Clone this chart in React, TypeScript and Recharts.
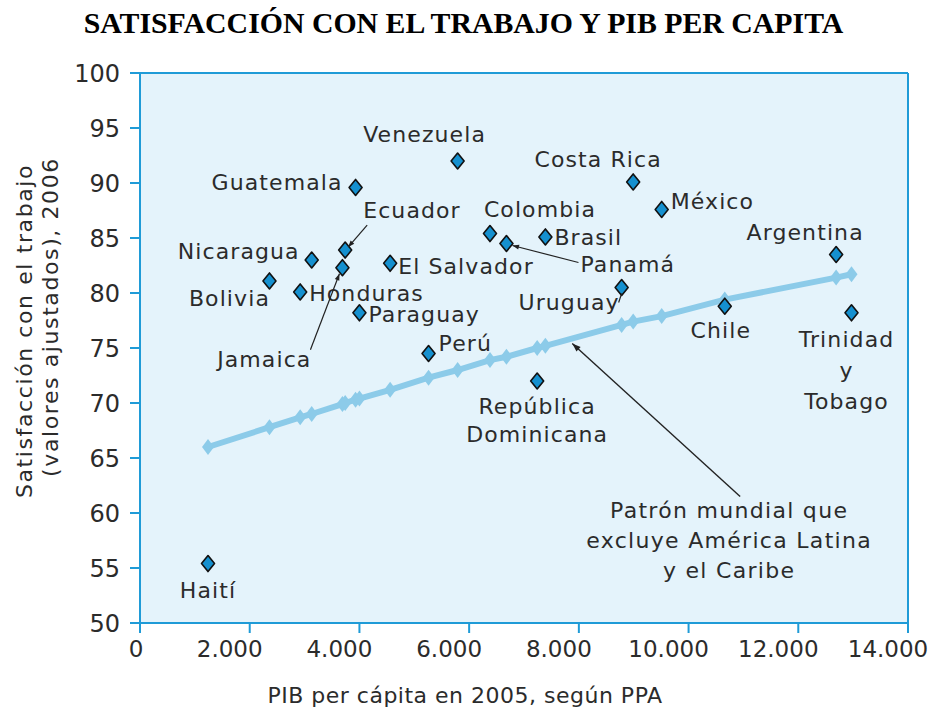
import React from "react";
import {
  ScatterChart,
  Scatter,
  XAxis,
  YAxis,
  CartesianGrid,
  ReferenceLine,
} from "recharts";

// Países de América Latina y el Caribe
const countries = [
  "Haití", "Bolivia", "Honduras", "Nicaragua", "Jamaica", "Ecuador",
  "Guatemala", "Paraguay", "El Salvador", "Perú", "Venezuela", "Colombia",
  "Panamá", "República Dominicana", "Brasil", "Uruguay", "Costa Rica",
  "México", "Chile", "Argentina", "Trinidad y Tobago",
];
const gdp = [
  1240, 2360, 2920, 3130, 3690, 3740, 3930, 4000, 4560, 5260, 5790, 6380,
  6680, 7240, 7390, 8780, 8990, 9510, 10660, 12690, 12970,
];
const satisfaction = [
  55.4, 81.1, 80.1, 83.0, 82.3, 83.9, 89.6, 78.2, 82.7, 74.5, 92.0, 85.4,
  84.5, 72.0, 85.1, 80.5, 90.1, 87.6, 78.8, 83.5, 78.2,
];

// Patrón mundial (sin América Latina y el Caribe)
const trendGdp = [
  1240, 2360, 2920, 3130, 3690, 3740, 3930, 4000, 4560, 5260, 5790, 6380,
  6680, 7240, 7390, 8780, 8990, 9510, 10660, 12690, 12970,
];
const trendSat = [
  66.0, 67.8, 68.7, 69.0, 69.9, 70.0, 70.3, 70.4, 71.2, 72.3, 73.0, 73.9,
  74.2, 75.0, 75.2, 77.1, 77.4, 77.9, 79.4, 81.4, 81.7,
];

const yTicks = [50, 55, 60, 65, 70, 75, 80, 85, 90, 95, 100];
const xTicks = [0, 2000, 4000, 6000, 8000, 10000, 12000, 14000];

const patternLines = ["Patrón mundial que", "excluye América Latina", "y el Caribe"];

// dónde va cada etiqueta respecto al rombo (px)
type Place = {
  dx: number;
  dy: number;
  anchor: "start" | "middle" | "end";
  lines?: string[];
  step?: number;
  arrow?: [number, number, number, number];
  head?: boolean;
};
const labelPlace: Record<string, Place> = {
  "Haití": { dx: 0, dy: 34, anchor: "middle" },
  "Bolivia": { dx: -40, dy: 25, anchor: "middle" },
  "Honduras": { dx: 9, dy: 9, anchor: "start" },
  "Nicaragua": { dx: -12, dy: -1, anchor: "end" },
  "Jamaica": { dx: -31, dy: 99, anchor: "end", arrow: [-32, 82, -3, 6], head: true },
  "Ecuador": { dx: 18, dy: -32, anchor: "start", arrow: [22, -25, 3, -3], head: true },
  "Guatemala": { dx: -13, dy: 3, anchor: "end" },
  "Paraguay": { dx: 9, dy: 9, anchor: "start" },
  "El Salvador": { dx: 8, dy: 11, anchor: "start" },
  "Perú": { dx: 10, dy: -3, anchor: "start" },
  "Venezuela": { dx: -33, dy: -19, anchor: "middle" },
  "Colombia": { dx: 50, dy: -17, anchor: "middle" },
  "Panamá": { dx: 74, dy: 28, anchor: "start", arrow: [72, 19, 6, 2], head: true },
  "República Dominicana": {
    dx: 0, dy: 33, anchor: "middle", lines: ["República", "Dominicana"], step: 28,
  },
  "Brasil": { dx: 9, dy: 8, anchor: "start" },
  "Uruguay": { dx: -2, dy: 22, anchor: "end", arrow: [-3, 15, 0, 6] },
  "Costa Rica": { dx: -35, dy: -15, anchor: "middle" },
  "México": { dx: 9, dy: 0, anchor: "start" },
  "Chile": { dx: -4, dy: 32, anchor: "middle" },
  "Argentina": { dx: -31, dy: -15, anchor: "middle" },
  "Trinidad y Tobago": {
    dx: -5, dy: 34, anchor: "middle", lines: ["Trinidad", "y", "Tobago"], step: 31,
  },
};

const AXIS = "#1f9bd7";
const BG = "#e4f3fb";
const MARK = "#1590cf";
const TREND = "#8ccbe9";
const INK = "#2b2b2b";
const SANS = "'DejaVu Sans', sans-serif";

const countryData = countries.map((name, i) => ({ name, x: gdp[i], y: satisfaction[i] }));
const trendData = trendGdp.map((x, i) => ({ x, y: trendSat[i] }));

function fmtThousands(v: number): string {
  return v === 0 ? "0" : v.toLocaleString("de-DE");
}

function arrowHead(x1: number, y1: number, x2: number, y2: number, size = 7) {
  const a = Math.atan2(y2 - y1, x2 - x1);
  const p1 = [x2 - size * Math.cos(a - 0.35), y2 - size * Math.sin(a - 0.35)];
  const p2 = [x2 - size * Math.cos(a + 0.35), y2 - size * Math.sin(a + 0.35)];
  return `${x2},${y2} ${p1[0]},${p1[1]} ${p2[0]},${p2[1]}`;
}

function CountryMark(props: any) {
  const { cx, cy, payload } = props;
  if (cx == null || cy == null) return null;
  const p = labelPlace[payload.name];
  const lines = p.lines ?? [payload.name];
  return (
    <g>
      <polygon
        points={`${cx},${cy - 8} ${cx + 6.5},${cy} ${cx},${cy + 8} ${cx - 6.5},${cy}`}
        fill={MARK}
        stroke="#111"
        strokeWidth={1.6}
        strokeLinejoin="round"
      />
      {p.arrow && (
        <g stroke="#222" strokeWidth={1.2} fill="#222">
          <line x1={cx + p.arrow[0]} y1={cy + p.arrow[1]} x2={cx + p.arrow[2]} y2={cy + p.arrow[3]} />
          {p.head && (
            <polygon
              points={arrowHead(cx + p.arrow[0], cy + p.arrow[1], cx + p.arrow[2], cy + p.arrow[3])}
              stroke="none"
            />
          )}
        </g>
      )}
      {lines.map((t, k) => (
        <text
          key={k}
          x={cx + p.dx}
          y={cy + p.dy + k * (p.step ?? 0)}
          textAnchor={p.anchor}
          fontFamily={SANS}
          fontSize={22}
          letterSpacing={1.1}
          fill={INK}
        >
          {t}
        </text>
      ))}
    </g>
  );
}

function TrendMark(props: any) {
  const { cx, cy } = props;
  if (cx == null || cy == null) return null;
  return (
    <polygon
      points={`${cx},${cy - 8} ${cx + 6},${cy} ${cx},${cy + 8} ${cx - 6},${cy}`}
      fill={TREND}
    />
  );
}

function PatternArrow(props: any) {
  const { x1, y1, x2, y2 } = props;
  return (
    <g>
      <line x1={x1} y1={y1} x2={x2} y2={y2} stroke="#222" strokeWidth={1.4} />
      <polygon points={arrowHead(x1, y1, x2, y2, 9)} fill="#222" />
      {patternLines.map((t, k) => (
        <text
          key={k}
          x={x1 - 11}
          y={y1 + 21 + k * 30}
          textAnchor="middle"
          fontFamily={SANS}
          fontSize={22}
          letterSpacing={1.3}
          fill={INK}
        >
          {t}
        </text>
      ))}
    </g>
  );
}

// etiquetas del eje X algo corridas a la izquierda, como en el original
function XTick(props: any) {
  const { x, y, payload } = props;
  const shift = payload.value === 0 ? -4 : -20;
  return (
    <text
      x={x + shift}
      y={y}
      dy="0.71em"
      textAnchor="middle"
      fontFamily={SANS}
      fontSize={23}
      fill={INK}
    >
      {fmtThousands(payload.value)}
    </text>
  );
}

export default function App() {
  return (
    <div style={{ position: "absolute", left: 0, top: 0, width: 937, height: 719, background: "#fff" }}>
      <div
        style={{
          position: "absolute",
          left: 0,
          top: 6,
          width: 927,
          textAlign: "center",
          fontFamily: "'Liberation Serif', serif",
          fontWeight: "bold",
          fontSize: 29.8,
          color: "#000",
          whiteSpace: "nowrap",
        }}
      >
        SATISFACCIÓN CON EL TRABAJO Y PIB PER CAPITA
      </div>
      <ScatterChart width={937} height={719} margin={{ top: 73, right: 29, bottom: 36, left: 60 }}>
        <CartesianGrid fill={BG} horizontal={false} vertical={false} />
        <XAxis
          type="number"
          dataKey="x"
          domain={[0, 14000]}
          ticks={xTicks}
          height={60}
          stroke={AXIS}
          strokeWidth={2}
          tickSize={10}
          tickMargin={8}
          tick={XTick}
          label={{
            content: () => (
              <text
                x={465}
                y={703}
                textAnchor="middle"
                fontFamily={SANS}
                fontSize={22}
                letterSpacing={0.5}
                fill={INK}
              >
                PIB per cápita en 2005, según PPA
              </text>
            ),
          }}
        />
        <YAxis
          type="number"
          dataKey="y"
          domain={[50, 100]}
          ticks={yTicks}
          width={80}
          stroke={AXIS}
          strokeWidth={2}
          tickSize={10}
          tickMargin={10}
          tick={{ fill: INK, fontSize: 24, fontFamily: SANS }}
          label={{
            content: () => (
              <g fontFamily={SANS} fontSize={22} letterSpacing={1.6} fill={INK}>
                <text x={0} y={0} textAnchor="middle" transform="translate(32, 331) rotate(-90)">
                  Satisfacción con el trabajo
                </text>
                <text x={0} y={0} textAnchor="middle" transform="translate(58, 317) rotate(-90)">
                  (valores ajustados), 2006
                </text>
              </g>
            ),
          }}
        />
        <ReferenceLine y={100} stroke={AXIS} strokeWidth={2} />
        <ReferenceLine x={14000} stroke={AXIS} strokeWidth={2} />
        <Scatter
          data={trendData}
          line={{ stroke: TREND, strokeWidth: 6 }}
          lineType="joint"
          shape={TrendMark}
          isAnimationActive={false}
        />
        <ReferenceLine
          segment={[
            { x: 10940, y: 61.5 },
            { x: 7880, y: 75.4 },
          ]}
          shape={PatternArrow}
        />
        <Scatter data={countryData} shape={CountryMark} isAnimationActive={false} />
      </ScatterChart>
    </div>
  );
}
